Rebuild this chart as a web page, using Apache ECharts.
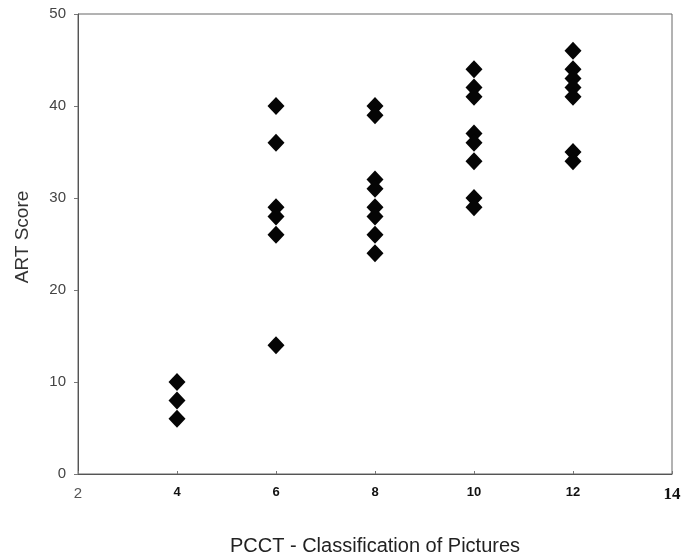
<!DOCTYPE html>
<html><head><meta charset="utf-8">
<script src="https://cdn.jsdelivr.net/npm/echarts@6/dist/echarts.min.js"></script>
<style>html,body{margin:0;padding:0;background:#fff}#c{width:684px;height:558px}</style>
</head><body><div id="c"></div>
<script>
const xCategories = [4, 6, 8, 10, 12];
const scoresAt4 = [10, 8, 6];
const scoresAt6 = [40, 36, 29, 28, 26, 14];
const scoresAt8 = [40, 39, 32, 31, 29, 28, 26, 24];
const scoresAt10 = [44, 42, 41, 37, 36, 34, 30, 29];
const scoresAt12 = [46, 44, 43, 42, 41, 35, 34];
const xTicks = [2, 4, 6, 8, 10, 12, 14];
const yTicks = [0, 10, 20, 30, 40, 50];

const groups = [scoresAt4, scoresAt6, scoresAt8, scoresAt10, scoresAt12];
const points = [];
groups.forEach((g, i) => g.forEach(v => points.push([xCategories[i], v])));

const chart = echarts.init(document.getElementById('c'));
chart.setOption({
  animation: false,
  grid: {left: 78, right: 12, top: 14, bottom: 84, outerBoundsMode: 'none', containLabel: false, show: true, borderColor: '#666', borderWidth: 1, backgroundColor: 'transparent'},
  xAxis: {
    type: 'value', min: xTicks[0], max: xTicks[xTicks.length-1], interval: 2,
    axisLine: {lineStyle: {color: '#555'}},
    axisTick: {show: true, inside: true, length: 3, lineStyle: {color: '#777'}},
    splitLine: {show: false},
    axisLabel: {
      margin: 12,
      formatter: v => v === 2 ? '{g|' + v + '}' : (v === 14 ? '{s|' + v + '}' : '{b|' + v + '}'),
      rich: {
        g: {fontFamily: 'Liberation Sans', fontSize: 15, color: '#555'},
        b: {fontFamily: 'Liberation Sans', fontSize: 13, fontWeight: 'bold', color: '#111'},
        s: {fontFamily: 'Liberation Serif', fontSize: 17, fontWeight: 'bold', color: '#111', padding: [0,0,0,0]}
      }
    },
    name: 'PCCT - Classification of Pictures', nameLocation: 'middle', nameGap: 62,
    nameTextStyle: {fontFamily: 'Liberation Sans', fontSize: 20, color: '#222'}
  },
  yAxis: {
    type: 'value', min: yTicks[0], max: yTicks[yTicks.length-1], interval: 10,
    axisLine: {show: true, lineStyle: {color: '#555'}},
    axisTick: {show: true, length: 4, lineStyle: {color: '#777'}},
    splitLine: {show: false},
    axisLabel: {fontFamily: 'Liberation Sans', fontSize: 15, color: '#444', margin: 12},
    name: 'ART Score', nameLocation: 'middle', nameGap: 46,
    nameTextStyle: {fontFamily: 'Liberation Sans', fontSize: 19, color: '#333', padding: [0, 0, 0, 14]}
  },
  series: [{
    type: 'scatter', data: points, symbol: 'diamond', symbolSize: [17, 18],
    itemStyle: {color: '#050505', opacity: 1}
  }]
});
</script></body></html>
